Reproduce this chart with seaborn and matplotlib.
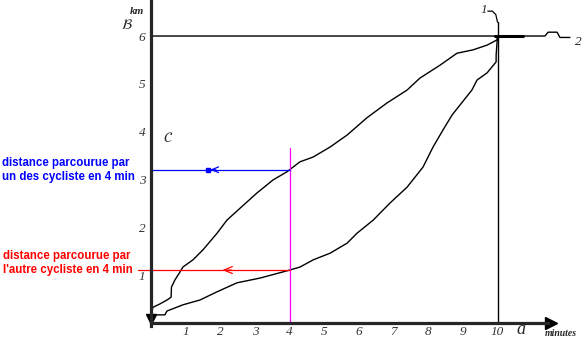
import numpy as np
import matplotlib
matplotlib.use("Agg")
import matplotlib.pyplot as plt
import seaborn as sns

# Temps (min) et distance parcourue (km) pour chacun des deux cyclistes
t_cycliste1 = [0.0, 0.06, 0.26, 0.46, 0.58, 0.59, 0.69, 0.84, 0.92, 1.21,
               1.50, 1.91, 2.19, 2.57, 3.06, 3.52, 3.92, 4.30, 4.68, 5.17,
               5.66, 6.23, 6.81, 7.39, 7.76, 8.34, 8.83, 9.29, 9.70, 9.99, 10.0]
d_cycliste1 = [0.21, 0.33, 0.40, 0.48, 0.54, 0.75, 0.90, 1.07, 1.17, 1.32,
               1.53, 1.88, 2.15, 2.40, 2.72, 2.99, 3.16, 3.37, 3.47, 3.68,
               3.93, 4.29, 4.60, 4.87, 5.12, 5.39, 5.64, 5.71, 5.81, 5.92, 6.0]

t_cycliste2 = [0.0, 0.40, 0.46, 0.92, 1.41, 1.90, 2.48, 3.15, 3.92, 4.30,
               4.68, 5.17, 5.66, 5.95, 6.41, 6.90, 7.39, 7.85, 8.14, 8.43,
               8.69, 8.92, 9.26, 9.41, 9.70, 9.96, 9.96, 10.0]
d_cycliste2 = [0.17, 0.17, 0.25, 0.38, 0.48, 0.65, 0.84, 0.94, 1.09, 1.17,
               1.32, 1.46, 1.67, 1.88, 2.15, 2.51, 2.84, 3.26, 3.68, 4.04,
               4.35, 4.56, 4.87, 5.08, 5.23, 5.46, 5.60, 6.0]

x_ticks = [1, 2, 3, 4, 5, 6, 7, 8, 9, 10]
x_labels = ["1", "2", "3", "4", "5", "6", "7", "8", "9", "10"]
y_ticks = [1, 2, 3, 4, 5, 6]
y_labels = ["1", "2", "3", "4", "5", "6"]

t_lecture = 4        # instant de lecture (min)
t_arrivee = 10       # durée totale (min)
d_arrivee = 6        # distance totale (km)

sns.set_style("white")
plt.rcParams["mathtext.fontset"] = "stix"

W, H = 584, 350
fig = plt.figure(figsize=(W / 100, H / 100), dpi=100)
ax = fig.add_axes([0, 0, 1, 1])
ax.set_xlim(-4.358, 12.496)
ax.set_ylim(-0.5645, 6.753)


def px(x, y):
    return (x / W, 1 - y / H)


# Courbes des deux cyclistes
sns.lineplot(x=t_cycliste1, y=d_cycliste1, sort=False, estimator=None,
             color="black", lw=1.0, ax=ax)
sns.lineplot(x=t_cycliste2, y=d_cycliste2, sort=False, estimator=None,
             color="black", lw=1.0, ax=ax)

# Lecture des distances à t = 4 min
d1_4 = np.interp(t_lecture, t_cycliste1, d_cycliste1)
d2_4 = np.interp(t_lecture, t_cycliste2, d_cycliste2)

ax.plot([t_lecture, t_lecture], [0, 3.66], color="#ff00ff", lw=0.9)
ax.plot([0, t_lecture], [d1_4, d1_4], color="#0000ff", lw=0.9)
ax.plot([-0.37, t_lecture], [d2_4, d2_4], color="#ff0000", lw=0.9)
ax.annotate("", xy=(1.62, d1_4), xytext=(1.95, d1_4),
            arrowprops=dict(arrowstyle="->,head_length=0.5,head_width=0.2",
                            color="#0000ff", lw=0.9))
ax.plot([1.65], [d1_4], marker="s", ms=3, color="#0000ff")
ax.annotate("", xy=(1.98, d2_4), xytext=(2.4, d2_4),
            arrowprops=dict(arrowstyle="->,head_length=0.6,head_width=0.25",
                            color="#ff0000", lw=0.9))

# Ligne d'arrivée (1) et distance totale (2)
ax.plot([t_arrivee, t_arrivee], [0, 6.29], color="black", lw=1.0)
ax.plot([t_arrivee, 9.95, 9.85, 9.72], [6.29, 6.45, 6.52, 6.52],
        color="black", lw=0.9)
ax.plot([0, 11.37, 11.46, 11.72, 11.80, 12.09],
        [d_arrivee, d_arrivee, 6.08, 6.08, 5.97, 5.97], color="black", lw=1.0)
ax.plot([9.94, 10.74], [d_arrivee, d_arrivee], color="black", lw=2.2)

# Axes
for side in ("top", "right"):
    ax.spines[side].set_visible(False)
ax.spines["left"].set_position(("data", 0))
ax.spines["bottom"].set_position(("data", 0))
ax.spines["left"].set_linewidth(2.3)
ax.spines["bottom"].set_linewidth(2.3)
ax.spines["left"].set_bounds(-0.06, 6.753)
ax.spines["bottom"].set_bounds(0, 11.45)
ax.plot([11.55], [0], marker=">", ms=8, color="black", clip_on=False)
ax.plot([0], [0.09], marker="v", ms=7, color="black", clip_on=False)

serif = ["Liberation Serif", "DejaVu Serif"]
ax.set_xticks(x_ticks)
ax.set_xticklabels(x_labels, fontfamily=serif, fontstyle="italic",
                   fontsize=9.5, color="#333333")
ax.set_yticks(y_ticks)
ax.set_yticklabels(y_labels, fontfamily=serif, fontstyle="italic",
                   fontsize=9.5, color="#333333")
ax.tick_params(axis="both", direction="in", length=7.5, width=0.8,
               color="black", pad=2)
ax.tick_params(axis="y", pad=4)
ax.grid(False)

# Annotations des axes
fig.text(*px(130, 12), "km", fontfamily=serif, fontstyle="italic",
         fontweight="bold", fontsize=8, ha="left", va="center")
fig.text(*px(127, 25), r"$\mathcal{B}$", fontsize=10, ha="center", va="center")
fig.text(*px(168, 138), r"$\mathcal{C}$", fontsize=10, ha="center", va="center")
fig.text(*px(521, 329), "a", fontfamily=serif, fontstyle="italic",
         fontsize=13, ha="center", va="center")
fig.text(*px(561, 334), "minutes", fontfamily=serif, fontstyle="italic",
         fontweight="bold", fontsize=7, ha="center", va="center")
fig.text(*px(484, 10), "1", fontfamily=serif, fontstyle="italic",
         fontsize=9.5, ha="center", va="center")
fig.text(*px(578, 42), "2", fontfamily=serif, fontstyle="italic",
         fontsize=9.5, ha="center", va="center")

# Légendes des lectures
sans = ["Liberation Sans", "DejaVu Sans"]
fig.text(*px(2, 163), "distance parcourue par", color="#0000ff",
         fontfamily=sans, fontweight="bold", fontsize=8.3, ha="left", va="center")
fig.text(*px(2, 177), "un des cycliste en 4 min", color="#0000ff",
         fontfamily=sans, fontweight="bold", fontsize=8.3, ha="left", va="center")
fig.text(*px(3, 256), "distance parcourue par", color="#ff0000",
         fontfamily=sans, fontweight="bold", fontsize=8.3, ha="left", va="center")
fig.text(*px(3, 270), "l'autre cycliste en 4 min", color="#ff0000",
         fontfamily=sans, fontweight="bold", fontsize=8.3, ha="left", va="center")

fig.savefig("out.png", dpi=100)
